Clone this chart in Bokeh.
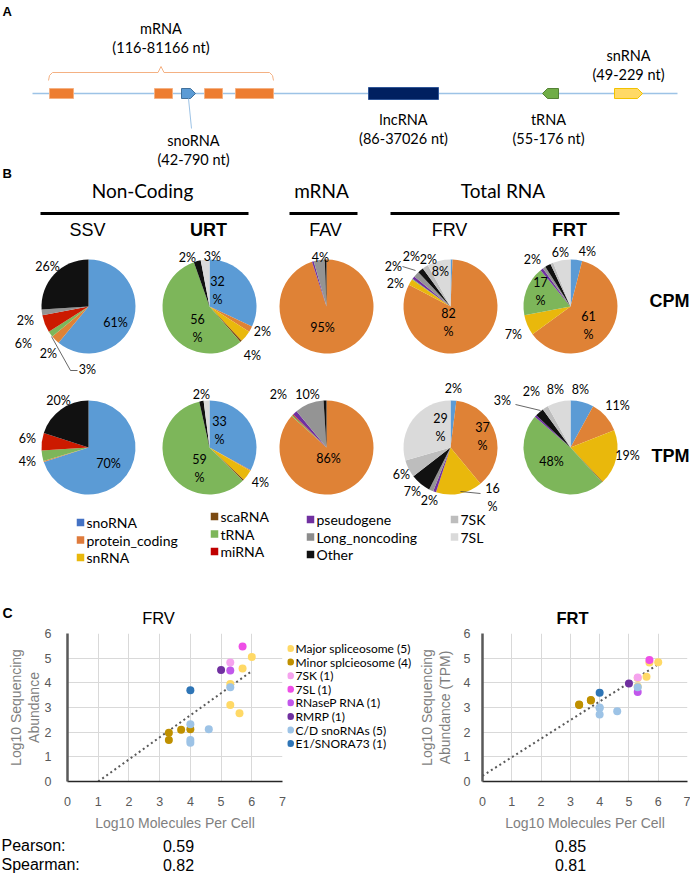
import math
from bokeh.plotting import figure
from bokeh.models import Range1d, FixedTicker
from bokeh.layouts import column, row
from bokeh.embed import file_html
from bokeh.resources import INLINE
from bokeh.core.properties import value

# ====================== DATA ======================
# ---- Panel A: schematic locus (schematic position units) ----
locus_span = [32, 677]
exon_starts = [49, 154, 204, 235]
exon_ends = [73, 172, 222, 273]
feature_names = ["mRNA", "snoRNA", "lncRNA", "tRNA", "snRNA"]
feature_ranges = ["(116-81166 nt)", "(42-790 nt)", "(86-37026 nt)", "(55-176 nt)", "(49-229 nt)"]
snorna_span = [181, 195]   # plus strand
lncrna_span = [368, 438]
trna_span = [542, 558]     # minus strand
snrna_span = [614, 642]    # plus strand

# ---- Panel B: read composition (percent) ----
rna_types = ["snoRNA", "protein_coding", "snRNA", "scaRNA", "tRNA", "miRNA",
             "pseudogene", "Long_noncoding", "Other", "7SK", "7SL"]
group_names = ["Non-Coding", "mRNA", "Total RNA"]
sample_names = ["SSV", "URT", "FAV", "FRV", "FRT"]
sample_bold = [False, True, False, False, True]
measures = ["CPM", "TPM"]

cpm_ssv = [61, 3, 0, 0, 2, 6, 0, 2, 26, 0, 0]
cpm_urt = [32, 2, 4, 0.6, 56, 0, 0, 0, 2.4, 0, 3]
cpm_fav = [0, 95, 0, 0, 0, 0, 0.6, 3.8, 0.6, 0, 0]
cpm_frv = [0.7, 82, 2, 0, 0.3, 0, 1, 2, 2, 2, 8]
cpm_frt = [4, 61, 7, 0, 17, 0, 1, 1, 2, 1, 6]
tpm_ssv = [70, 0.4, 0, 0, 3.6, 6, 0, 0, 20, 0, 0]
tpm_urt = [33, 0.3, 3.7, 0.5, 59, 0, 0, 0, 1.5, 0, 2]
tpm_fav = [0, 86.7, 0, 0, 0.5, 0.3, 1.5, 10, 1, 0, 0]
tpm_frv = [2, 37, 16, 0, 0, 0, 1, 1.5, 7, 6, 29.5]
tpm_frt = [8, 11, 19, 0.3, 48, 0, 0.7, 0, 3, 2, 8]

cpm_ssv_labels = ["61%", "26%", "2%", "6%", "2%", "3%"]
cpm_urt_labels = ["2%", "3%", "32\n%", "56\n%", "2%", "4%"]
cpm_fav_labels = ["4%", "95%"]
cpm_frv_labels = ["2%", "2%", "8%", "2%", "2%", "82\n%"]
cpm_frt_labels = ["2%", "6%", "4%", "17\n%", "61\n%", "7%"]
tpm_ssv_labels = ["20%", "6%", "4%", "70%"]
tpm_urt_labels = ["2%", "33\n%", "59\n%", "4%"]
tpm_fav_labels = ["2%", "10%", "86%"]
tpm_frv_labels = ["2%", "29\n%", "37\n%", "6%", "7%", "2%", "16\n%"]
tpm_frt_labels = ["3%", "2%", "8%", "8%", "11%", "19%", "48%"]

# ---- Panel C: log10 abundance vs log10 molecules per cell ----
scatter_groups = ["Major spliceosome (5)", "Minor splcieosome (4)", "7SK (1)", "7SL (1)",
                  "RNaseP RNA (1)", "RMRP (1)", "C/D snoRNAs (5)", "E1/SNORA73 (1)"]
frv_x = [6.0, 5.7, 5.3, 5.3, 5.6, 3.3, 3.3, 3.7, 4.0, 5.3, 5.7, 5.3, 5.0, 4.0, 4.0, 4.0, 4.6, 5.3, 4.0]
frv_y = [5.05, 4.58, 3.95, 3.1, 2.77, 1.98, 1.68, 2.1, 2.12, 4.82, 5.47, 4.5, 4.52, 2.32, 1.68, 1.57, 2.12, 3.82, 3.7]
frv_g = [0, 0, 0, 0, 0, 1, 1, 1, 1, 2, 3, 4, 5, 6, 6, 6, 6, 6, 7]
frt_x = [6.0, 5.7, 5.6, 5.3, 5.3, 3.3, 3.3, 3.7, 3.7, 5.3, 5.7, 5.3, 5.0, 4.0, 4.0, 4.0, 4.6, 5.3, 4.0]
frt_y = [4.83, 4.82, 4.25, 4.2, 3.85, 3.1, 3.12, 3.28, 3.3, 4.22, 4.93, 3.63, 3.97, 3.0, 2.98, 2.72, 2.85, 3.82, 3.6]
frt_g = [0, 0, 0, 0, 0, 1, 1, 1, 1, 2, 3, 4, 5, 6, 6, 6, 6, 6, 7]
frv_trend_x = [1.0, 5.96]
frv_trend_y = [0.0, 4.44]
frt_trend_x = [0.0, 6.0]
frt_trend_y = [0.23, 4.75]
corr_names = ["Pearson:", "Spearman:"]
frv_corr = ["0.59", "0.82"]
frt_corr = ["0.85", "0.81"]

# ====================== STYLE / LAYOUT ======================
type_colors = ["#5B9BD5", "#DF8236", "#E9B80C", "#7B4A12", "#7DB65A", "#CC1A00",
               "#7030A0", "#949494", "#111111", "#BDBDBD", "#DADADA"]
legend_type_colors = ["#4472C4", "#DF7B3C", "#E9B80C", "#7B4A12", "#7DB65A", "#C00000",
                      "#7030A0", "#8C8C8C", "#111111", "#BDBDBD", "#DADADA"]
group_colors = ["#FFD966", "#BF9000", "#F5A3EE", "#EE4FE6", "#C157EB", "#7030A0", "#9DC3E6", "#2E75B6"]

CAL = "Lato"
ARI = "Liberation Sans"

col_x = [88, 209, 326, 450, 570]
row_y = [306, 447]
R = 47

pie_data = {
    ("CPM", "SSV"): (cpm_ssv, cpm_ssv_labels), ("CPM", "URT"): (cpm_urt, cpm_urt_labels),
    ("CPM", "FAV"): (cpm_fav, cpm_fav_labels), ("CPM", "FRV"): (cpm_frv, cpm_frv_labels),
    ("CPM", "FRT"): (cpm_frt, cpm_frt_labels),
    ("TPM", "SSV"): (tpm_ssv, tpm_ssv_labels), ("TPM", "URT"): (tpm_urt, tpm_urt_labels),
    ("TPM", "FAV"): (tpm_fav, tpm_fav_labels), ("TPM", "FRV"): (tpm_frv, tpm_frv_labels),
    ("TPM", "FRT"): (tpm_frt, tpm_frt_labels),
}
label_offsets = {
    ("CPM", "SSV"): [(27, 16), (-41, -40), (-63, 14), (-65, 37), (-40, 47), (-1, 63)],
    ("CPM", "URT"): [(-22, -49), (3, -50), (8, -16), (-12, 22), (53, 25), (43, 49)],
    ("CPM", "FAV"): [(-6, -49), (-4, 21)],
    ("CPM", "FRV"): [(-39, -50), (-22, -47), (-10, -35), (-57, -40), (-55, -23), (-2, 16)],
    ("CPM", "FRT"): [(-38, -47), (-10, -54), (17, -55), (-30, -15), (18, 19), (-57, 28)],
    ("TPM", "SSV"): [(-30, -47), (-61, -9), (-61, 14), (20, 16)],
    ("TPM", "URT"): [(-8, -53), (10, -17), (-10, 21), (51, 35)],
    ("TPM", "FAV"): [(-48, -53), (-19, -53), (2, 11)],
    ("TPM", "FRV"): [(3, -59), (-10, -20), (32, -11), (-49, 27), (-38, 44), (-21, 53), (42, 50)],
    ("TPM", "FRT"): [(-68, -47), (-39, -56), (-15, -58), (10, -58), (47, -42), (57, 8), (-19, 14)],
}
leaders = {
    ("CPM", "SSV"): [[(-37, 30), (-18, 64), (-11, 64)]],
    ("CPM", "FRV"): [[(-48, -40), (-35, -36)]],
    ("TPM", "FRV"): [[(10, 44), (30, 46)]],
    ("TPM", "FRT"): [[(-55, -43), (-30, -37)]],
}

W = 690
TOP_H = 626
ROW_H = 207
BOT_H = 40

# ====================== TOP CANVAS (panels A & B) ======================
top = figure(width=W, height=TOP_H, x_range=Range1d(0, W), y_range=Range1d(-TOP_H, 0),
             toolbar_location=None, output_backend="svg", min_border=0,
             x_axis_type=None, y_axis_type=None)
top.outline_line_color = None


def txt(p, x, y, s, size, font=CAL, style="normal", align="center", color="#000000"):
    p.text(x=[x], y=[-y], text=[s], text_font=value(font), text_font_size=f"{size}px",
           text_font_style=style, text_align=align, text_baseline="middle",
           text_color=color, text_line_height=1.2)


# ---- Panel A ----
txt(top, 2, 11, "A", 13, font=ARI, style="bold", align="left")
LY = 93
top.line(x=locus_span, y=[-LY, -LY], line_color="#9DC3E6", line_width=1.5)
top.quad(left=exon_starts, right=exon_ends, top=-(LY - 5), bottom=-(LY + 5),
         fill_color="#ED7D31", line_color="#F4B183", line_width=1)


def pentagon(span, strand, fill, line):
    s, e = span
    h = 5
    if strand > 0:
        xs = [s, e - 5, e, e - 5, s]
    else:
        xs = [e, s + 5, s, s + 5, e]
    ys = [-(LY - h), -(LY - h), -LY, -(LY + h), -(LY + h)]
    top.patch(x=xs, y=ys, fill_color=fill, line_color=line, line_width=1)


pentagon(snorna_span, 1, "#5B9BD5", "#41719C")
top.quad(left=lncrna_span[0], right=lncrna_span[1], top=-(LY - 6), bottom=-(LY + 6),
         fill_color="#002060", line_color="#2F5597", line_width=1)
pentagon(trna_span, -1, "#70AD47", "#548235")
pentagon(snrna_span, 1, "#FFD966", "#F2C200")

# mRNA bracket
bx0, bx1 = exon_starts[0] - 1, exon_ends[-1]
bm = (bx0 + bx1) / 2
top.line(x=[bx0, bx0 + 1, bx0 + 4, bm - 3, bm, bm + 3, bx1 - 4, bx1 - 1, bx1],
         y=[-80, -75, -72, -72, -66, -72, -72, -75, -80], line_color="#F4B183", line_width=1)
txt(top, bm, 28, feature_names[0], 14.5)
txt(top, bm, 47, feature_ranges[0], 14.5)
# snoRNA leader + labels
sc = sum(snorna_span) / 2
top.line(x=[sc, sc + 3], y=[-(LY + 5), -128], line_color="#9DC3E6", line_width=1)
txt(top, sc + 5, 140, feature_names[1], 14.5)
txt(top, sc + 5, 159, feature_ranges[1], 14.5)
lc = sum(lncrna_span) / 2
txt(top, lc, 119, feature_names[2], 14.5)
txt(top, lc, 138, feature_ranges[2], 14.5)
tc = sum(trna_span) / 2
txt(top, tc - 2, 119, feature_names[3], 14.5)
txt(top, tc - 2, 138, feature_ranges[3], 14.5)
snc = sum(snrna_span) / 2
txt(top, snc, 55, feature_names[4], 14.5)
txt(top, snc, 74, feature_ranges[4], 14.5)

# ---- Panel B ----
txt(top, 2, 173, "B", 13, font=ARI, style="bold", align="left")
group_spans = [(40, 248), (289, 357), (390, 619)]
for gname, (g0, g1) in zip(group_names, group_spans):
    txt(top, (g0 + g1) / 2 - 2, 190, gname, 19)
    top.line(x=[g0, g1], y=[-213, -213], line_color="#000000", line_width=3)
for sname, bold, cx in zip(sample_names, sample_bold, col_x):
    txt(top, cx - 1, 229, sname, 18, font=ARI, style="bold" if bold else "normal")
for m, cy in zip(measures, row_y):
    txt(top, 689, cy - 6 if m == "CPM" else cy + 8, m, 18, font=ARI, style="bold", align="right")

for mi, m in enumerate(measures):
    for si, s in enumerate(sample_names):
        vals, labels = pie_data[(m, s)]
        cx, cy = col_x[si], row_y[mi]
        total = sum(vals)
        cum = 0.0
        st, en, cl = [], [], []
        for v, c in zip(vals, type_colors):
            if v > 0:
                st.append(math.pi / 2 - 2 * math.pi * cum / total)
                en.append(math.pi / 2 - 2 * math.pi * (cum + v) / total)
                cl.append(c)
            cum += v
        top.wedge(x=cx, y=-cy, radius=R, start_angle=st, end_angle=en, direction="clock",
                  fill_color=cl, line_color=None)
        offs = label_offsets[(m, s)]
        top.text(x=[cx + o[0] for o in offs], y=[-(cy + o[1]) for o in offs], text=labels,
                 text_font=value(CAL), text_font_size="12.5px", text_align="center",
                 text_baseline="middle", text_color="#000000", text_line_height=1.2)
        for ld in leaders.get((m, s), []):
            top.line(x=[cx + q[0] for q in ld], y=[-(cy + q[1]) for q in ld],
                     line_color="#404040", line_width=0.8)

# legend for pies
leg_cols = [[0, 1, 2], [3, 4, 5], [6, 7, 8], [9, 10]]
leg_x = [80, 214, 310, 454]
leg_y0 = [522, 516, 519, 519]
for col, lx, ly0 in zip(leg_cols, leg_x, leg_y0):
    ys = [ly0 + 17.5 * k for k in range(len(col))]
    top.rect(x=[lx] * len(col), y=[-y for y in ys], width=7.5, height=7.5,
             fill_color=[legend_type_colors[i] for i in col], line_color=None)
    top.text(x=[lx + 6] * len(col), y=[-y for y in ys], text=[rna_types[i] for i in col],
             text_font=value(CAL), text_font_size="14px", text_align="left",
             text_baseline="middle", text_color="#000000")

# ---- Panel C headings ----
txt(top, 2, 612, "C", 14, font=ARI, style="bold", align="left")
txt(top, 158, 617, "FRV", 16.5, font=ARI)
txt(top, 572, 617, "FRT", 16.5, font=ARI, style="bold")


# ====================== PANEL C SCATTERS ======================
def make_scatter(width, mbl, mbr, ylabel, xs, ys, gs, tx, ty, tick_standoff, label_standoff):
    p = figure(width=width, height=ROW_H, x_range=Range1d(0, 7), y_range=Range1d(0, 6),
               min_border_left=mbl, min_border_right=mbr, min_border_top=7, min_border_bottom=46,
               toolbar_location=None, output_backend="svg")
    p.outline_line_color = None
    p.xaxis.ticker = FixedTicker(ticks=list(range(0, 8)))
    p.yaxis.ticker = FixedTicker(ticks=list(range(0, 7)))
    p.xgrid.ticker = FixedTicker(ticks=list(range(0, 8)))
    p.ygrid.ticker = FixedTicker(ticks=list(range(0, 7)))
    p.grid.grid_line_color = "#D9D9D9"
    p.grid.grid_line_width = 1
    for ax in (p.xaxis[0], p.yaxis[0]):
        ax.major_tick_line_color = None
        ax.minor_tick_line_color = None
        ax.major_label_text_font = ARI
        ax.major_label_text_font_size = "12.5px"
        ax.major_label_text_color = "#595959"
        ax.axis_label_text_font = ARI
        ax.axis_label_text_font_size = "14px"
        ax.axis_label_text_color = "#7F7F7F"
        ax.axis_label_text_font_style = "normal"
    p.xaxis.axis_label = "Log10 Molecules Per Cell"
    p.yaxis.axis_label = ylabel
    p.xaxis.major_label_standoff = 9
    p.xaxis.axis_label_standoff = 6
    p.yaxis.major_label_standoff = tick_standoff
    p.yaxis.axis_label_standoff = label_standoff
    p.yaxis.axis_label_text_line_height = 1.1
    p.xaxis.axis_line_color = "#262626"
    p.xaxis.axis_line_width = 1.5
    p.yaxis.axis_line_color = "#595959"
    p.yaxis.axis_line_width = 2.5
    p.line(x=tx, y=ty, line_color="#595959", line_width=2, line_dash="2 3")
    p.scatter(x=xs, y=ys, size=8, fill_color=[group_colors[g] for g in gs], line_color=None)
    return p


# FRV: figure x 0..287, frame 67..282 ; FRT: figure x 415..690, frame 473..687
c_left = make_scatter(287, 67, 5, "Log10 Sequencing\nAbundance", frv_x, frv_y, frv_g,
                      frv_trend_x, frv_trend_y, 10, 0)
c_right = make_scatter(275, 58, 3, "Log10 Sequencing\nAbundance (TPM)", frt_x, frt_y, frt_g,
                       frt_trend_x, frt_trend_y, 6, 8)

c_mid = figure(width=128, height=ROW_H, x_range=Range1d(287, 415), y_range=Range1d(-833, -626),
               toolbar_location=None, output_backend="svg", min_border=0,
               x_axis_type=None, y_axis_type=None)
c_mid.outline_line_color = None
ly = [647 + 19 * k for k in range(len(scatter_groups))]
c_mid.scatter(x=[290] * len(ly), y=[-v for v in ly], size=7, fill_color=group_colors, line_color=None)
c_mid.text(x=[295] * len(ly), y=[-v for v in ly], text=scatter_groups, text_font=value(CAL),
           text_font_size="12px", text_align="left", text_baseline="middle", text_color="#000000")

bottom = figure(width=W, height=BOT_H, x_range=Range1d(0, W), y_range=Range1d(-873, -833),
                toolbar_location=None, output_backend="svg", min_border=0,
                x_axis_type=None, y_axis_type=None)
bottom.outline_line_color = None
corr_y = [845, 864]
bottom.text(x=[1, 1], y=[-v for v in corr_y], text=corr_names, text_font=value(ARI),
            text_font_size="16px", text_align="left", text_baseline="middle", text_color="#000000")
bottom.text(x=[178, 178], y=[-v for v in corr_y], text=frv_corr, text_font=value(ARI),
            text_font_size="16px", text_align="center", text_baseline="middle", text_color="#000000")
bottom.text(x=[570, 570], y=[-v for v in corr_y], text=frt_corr, text_font=value(ARI),
            text_font_size="16px", text_align="center", text_baseline="middle", text_color="#000000")

layout = column(top, row(c_left, c_mid, c_right), bottom)
open("out.html", "w").write(file_html(layout, INLINE))
